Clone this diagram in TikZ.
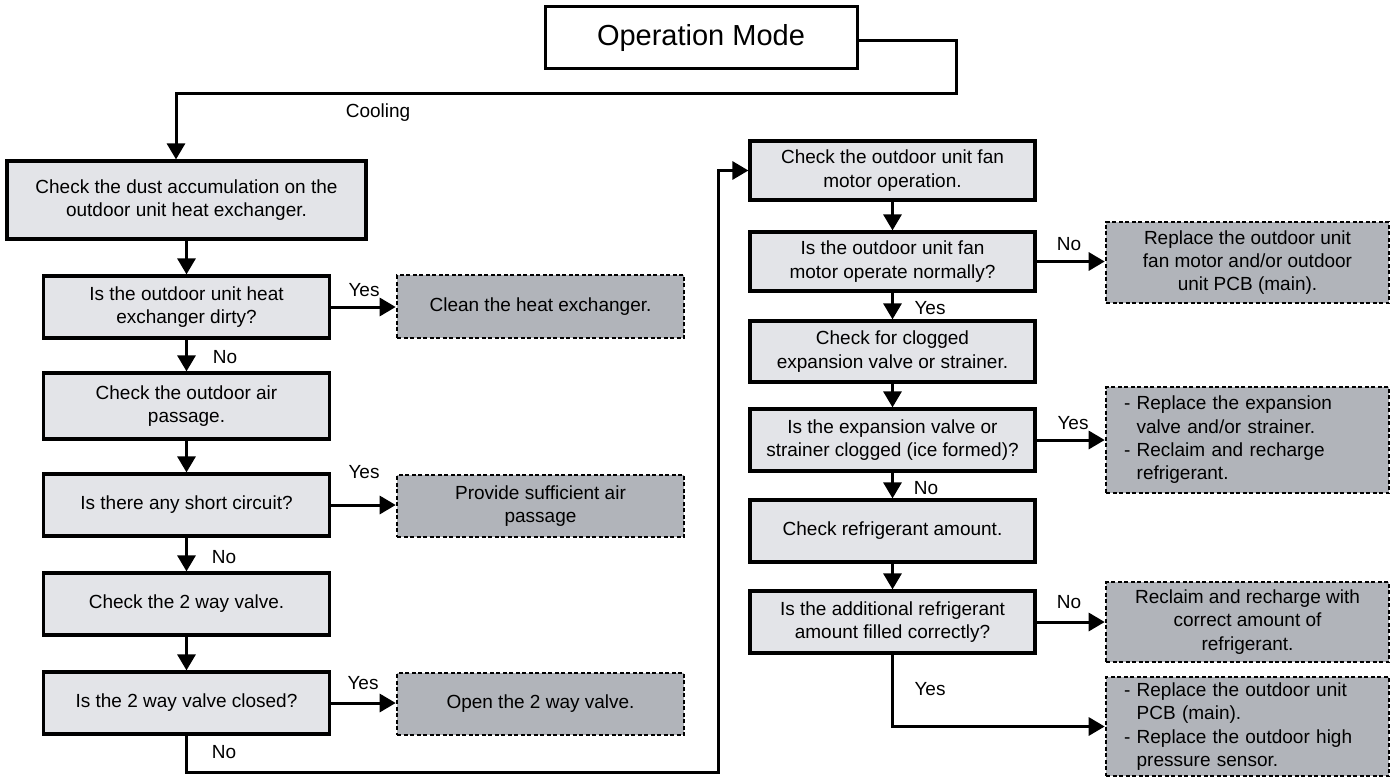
\documentclass[tikz,border=0pt]{standalone}
\usepackage{fontspec}
\setmainfont{Liberation Sans}
\usetikzlibrary{arrows.meta}
\definecolor{lightbox}{RGB}{227,228,232}
\definecolor{darkbox}{RGB}{177,180,186}
\begin{document}
\begin{tikzpicture}[x=1pt,y=-1pt,
  every node/.style={font=\fontsize{19}{23.3}\selectfont},
  stepbox/.style={draw=black, line width=3.2pt, fill=lightbox, align=center, inner sep=0pt},
  actbox/.style={draw=black, line width=2.6pt, dash pattern=on 4pt off 2.5pt, fill=darkbox, align=center, inner sep=0pt, minimum width=283pt},
  listbox/.style={actbox, align=left, text width=247pt},
  lbox/.style={stepbox, minimum width=286pt},
  rbox/.style={stepbox, minimum width=285pt},
  dbox/.style={actbox, minimum width=287pt},
  arr/.style={line width=3pt, -{Triangle[length=16pt,width=18pt]}},
  lbl/.style={inner sep=0pt}]
\useasboundingbox (0,0) rectangle (1399,778);

% title
\node[draw=black, line width=3pt, fill=white, minimum width=312pt, minimum height=62pt, inner sep=0pt,
      font=\fontsize{29}{34}\selectfont] (op) at (701,38) {Operation Mode};

% left column
\node[stepbox, minimum width=359pt, minimum height=78pt] (A) at (186.5,200) {Check the dust accumulation on the\\outdoor unit heat exchanger.};
\node[lbox, minimum height=62pt] (B) at (186.5,307) {Is the outdoor unit heat\\exchanger dirty?};
\node[lbox, minimum height=66pt] (C) at (186.5,406) {Check the outdoor air\\passage.};
\node[lbox, minimum height=62pt] (D) at (186.5,505) {Is there any short circuit?};
\node[lbox, minimum height=62pt] (E) at (186.5,604) {Check the 2 way valve.};
\node[lbox, minimum height=62pt] (F) at (186.5,703) {Is the 2 way valve closed?};

\node[dbox, minimum height=63pt] (clean) at (540.5,306.5) {Clean the heat exchanger.};
\node[dbox, minimum height=62pt] (prov) at (540.5,506) {Provide sufficient air\\passage};
\node[dbox, minimum height=62pt] (open) at (540.5,704) {Open the 2 way valve.};

% right column
\node[rbox, minimum height=59pt] (G) at (892.5,170.5) {Check the outdoor unit fan\\motor operation.};
\node[rbox, minimum height=59pt] (H) at (892.5,261.5) {Is the outdoor unit fan\\motor operate normally?};
\node[rbox, minimum height=61pt] (I) at (892.5,351.5) {Check for clogged\\expansion valve or strainer.};
\node[rbox, minimum height=62pt] (J) at (892.5,440) {Is the expansion valve or\\strainer clogged (ice formed)?};
\node[rbox, minimum height=62pt] (K) at (892.5,531) {Check refrigerant amount.};
\node[rbox, minimum height=62pt] (L) at (892.5,622) {Is the additional refrigerant\\amount filled correctly?};

\node[actbox, minimum height=81pt] (R1) at (1247.5,262.5) {Replace the outdoor unit\\fan motor and/or outdoor\\unit PCB (main).};
\node[listbox, minimum height=106pt] (R2) at (1247.5,440) {- Replace the expansion\\\hphantom{- }valve and/or strainer.\\- Reclaim and recharge\\\hphantom{- }refrigerant.};
\node[actbox, minimum height=80pt] (R3) at (1247.5,622) {Reclaim and recharge with\\correct amount of\\refrigerant.};
\node[listbox, minimum height=99pt] (R4) at (1247.5,726.5) {- Replace the outdoor unit\\\hphantom{- }PCB (main).\\- Replace the outdoor high\\\hphantom{- }pressure sensor.};

% connectors
\coordinate (c0) at (857,41);
\coordinate (c1) at (956,94);
\coordinate (c2) at (176,94);
\draw[arr] (c0) -| (c1) -- (c2) -- (c2 |- A.north);
\node[lbl] (cool) at (378,113) {Cooling};

\draw[arr] (A.south) -- (B.north);
\draw[arr] (B.east) -- (B.east -| clean.west);
\node[lbl] (y1) at (364,290) {Yes};
\draw[arr] (B.south) -- (C.north);
\node[lbl] (n1) at (225,357) {No};
\draw[arr] (C.south) -- (D.north);
\draw[arr] (D.east) -- (D.east -| prov.west);
\node[lbl] (y2) at (364,472) {Yes};
\draw[arr] (D.south) -- (E.north);
\node[lbl] (n2) at (224,557) {No};
\draw[arr] (E.south) -- (F.north);
\draw[arr] (F.east) -- (F.east -| open.west);
\node[lbl] (y3) at (363,683) {Yes};

\coordinate (b1) at (186.5,772);
\coordinate (b2) at (718,772);
\draw[arr] (F.south) -- (b1) -- (b2) |- (G.west);
\node[lbl] (n3) at (224,752) {No};

\draw[arr] (G.south) -- (H.north);
\draw[arr] (H.east) -- (H.east -| R1.west);
\node[lbl] (n4) at (1069,244) {No};
\draw[arr] (H.south) -- (I.north);
\node[lbl] (y4) at (930,308) {Yes};
\draw[arr] (I.south) -- (J.north);
\draw[arr] (J.east) -- (J.east -| R2.west);
\node[lbl] (y5) at (1073,423) {Yes};
\draw[arr] (J.south) -- (K.north);
\node[lbl] (n5) at (926,488) {No};
\draw[arr] (K.south) -- (L.north);
\draw[arr] (L.east) -- (L.east -| R3.west);
\node[lbl] (n6) at (1069,602) {No};
\draw[arr] (L.south) |- (R4.west);
\node[lbl] (y6) at (930,689) {Yes};
\end{tikzpicture}
\end{document}
